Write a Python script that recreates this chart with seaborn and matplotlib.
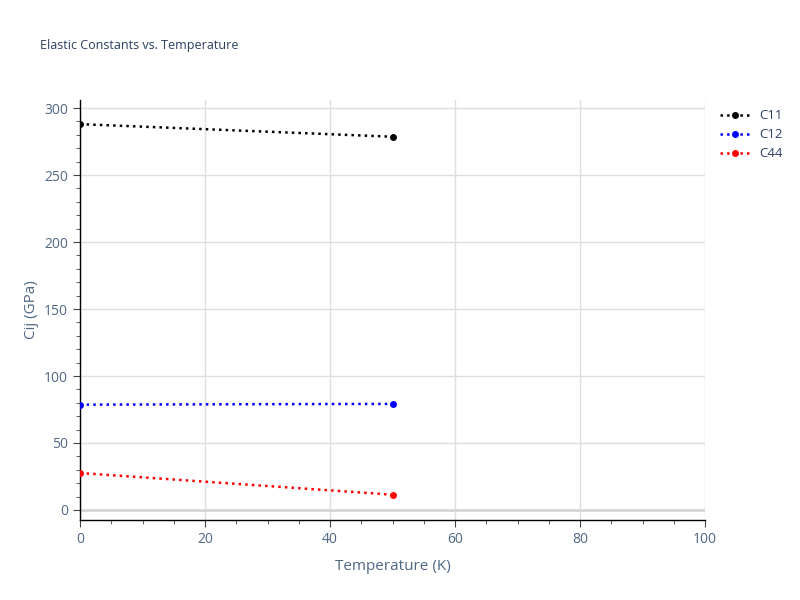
import matplotlib
matplotlib.use("Agg")
import matplotlib.pyplot as plt
import seaborn as sns
import pandas as pd
from matplotlib.ticker import MultipleLocator

temps = [0, 50]
c11 = [288.0, 278.6]
c12 = [78.6, 79.2]
c44 = [27.6, 11.4]
names = ["C11", "C12", "C44"]
colors = ["black", "blue", "red"]

df = pd.DataFrame({"T": temps * 3,
                   "val": c11 + c12 + c44,
                   "name": [n for n in names for _ in temps]})

sns.set_style("white")
plt.rcParams['font.family'] = ['Open Sans', 'DejaVu Sans']

fig = plt.figure(figsize=(8, 6), dpi=100)
ax = fig.add_axes([0.1, 0.1333, 0.78125, 0.7])

sns.lineplot(data=df, x="T", y="val", hue="name", palette=colors,
             marker="o", markersize=5, markeredgewidth=0, linestyle=":",
             linewidth=1.8, ax=ax, zorder=3)

ax.set_xlim(0, 100)
ax.set_ylim(-7.5, 306)
ax.xaxis.set_major_locator(MultipleLocator(20))
ax.xaxis.set_minor_locator(MultipleLocator(5))
ax.yaxis.set_major_locator(MultipleLocator(50))
ax.yaxis.set_minor_locator(MultipleLocator(10))
ax.grid(True, which="major", color="#dedede", linewidth=1, zorder=0)
ax.axhline(0, color="#d6d6d6", linewidth=2, zorder=1)

for s in ["top", "right"]:
    ax.spines[s].set_visible(False)
for s in ["left", "bottom"]:
    ax.spines[s].set_color("black")
    ax.spines[s].set_linewidth(1)

ax.tick_params(which="both", direction="out", color="#444444", labelcolor="#506784",
               labelsize=10, left=True, bottom=True)
ax.tick_params(which="major", length=5)
ax.tick_params(which="minor", length=3)

ax.set_xlabel("Temperature (K)", color="#506784", fontsize=11, labelpad=9)
ax.set_ylabel("Cij (GPa)", color="#506784", fontsize=11)
fig.text(0.05, 0.925, "Elastic Constants vs. Temperature", color="#2a3f5f",
         fontsize=9, va="center")

leg = ax.legend(loc="upper left", bbox_to_anchor=(1.005, 1.006), frameon=False,
                fontsize=9.5, handlelength=2.2, labelspacing=0.45,
                labelcolor="#2a3f5f")

fig.savefig("out.png", dpi=100)
